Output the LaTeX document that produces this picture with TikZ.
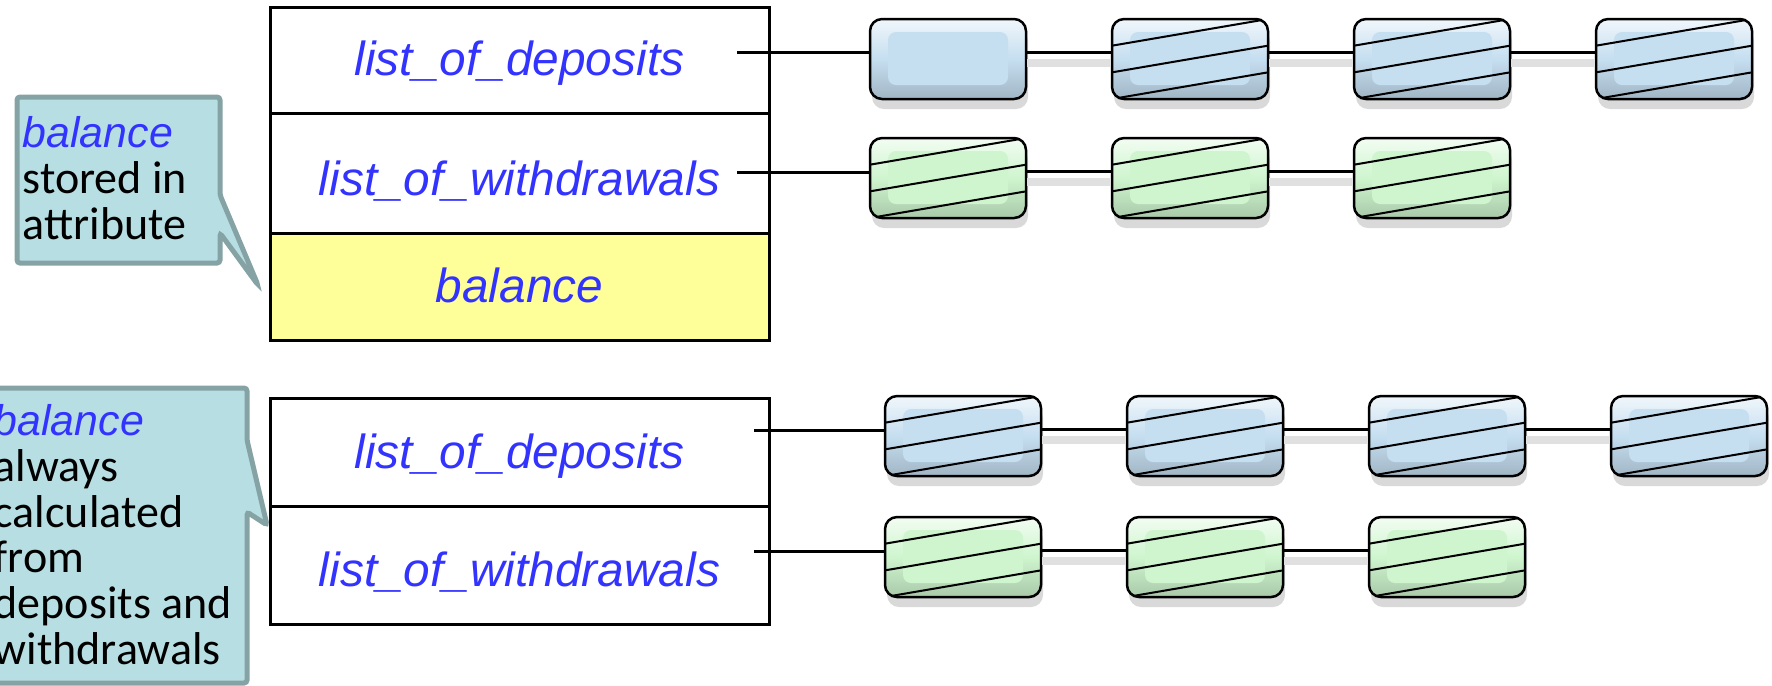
\documentclass[tikz,border=0pt]{standalone}
\usepackage{fontspec}
\usetikzlibrary{calc,shadows}
\newfontfamily\arialfont{Liberation Sans}
\newfontfamily\calibrifont{Carlito}
\definecolor{featureblue}{RGB}{51,51,255}
\definecolor{notefill}{RGB}{183,222,226}
\definecolor{noteline}{RGB}{133,163,165}
\definecolor{slotyellow}{RGB}{255,255,153}
\definecolor{depositblue}{RGB}{197,222,240}
\definecolor{withdrawgreen}{RGB}{206,245,206}

\tikzset{
	field/.style={draw, line width=0.3mm, minimum width=49.9mm, inner sep=0pt, text depth=3.8mm, text=featureblue, font=\arialfont\itshape\fontsize{13.6}{16}\selectfont},
	note/.style={fill=notefill, draw=noteline, line width=0.5mm, rounded corners=0.3mm},
	notetext/.style={anchor=north west, inner sep=0pt, align=left, font=\calibrifont\fontsize{13.1}{13}\selectfont},
	listcell/.style={draw=black, line width=0.25mm, rounded corners=1.2mm, minimum width=15.6mm, minimum height=8mm, inner sep=0pt,
		top color=#1!25!white, bottom color=#1!82!black, middle color=#1,
		drop shadow={shadow xshift=0.2mm, shadow yshift=-1mm, opacity=0.3},
		path picture={
			\fill[#1, rounded corners=0.8mm] ([shift={(1.8mm,-1.3mm)}]path picture bounding box.north west) rectangle ([shift={(-1.8mm,1.4mm)}]path picture bounding box.south east);
		}},
	slashed/.style={listcell=#1,
		path picture={
			\coordinate (nw) at (path picture bounding box.north west);
			\coordinate (ne) at (path picture bounding box.north east);
			\coordinate (sw) at (path picture bounding box.south west);
			\coordinate (se) at (path picture bounding box.south east);
			\fill[#1, rounded corners=0.8mm] ([shift={(1.8mm,-1.3mm)}]nw) rectangle ([shift={(-1.8mm,1.4mm)}]se);
			\draw[line width=0.2mm] ($(nw)!1/3!(sw)$) -- (ne);
			\draw[line width=0.2mm] ($(nw)!2/3!(sw)$) -- ($(ne)!1/3!(se)$);
			\draw[line width=0.2mm] (sw) -- ($(ne)!2/3!(se)$);
		}},
	linkline/.style={line width=0.3mm},
	chainline/.style={linkline, preaction={draw=black!12, line width=0.8mm, transform canvas={yshift=-1.1mm}}}
}

\begin{document}
\begin{tikzpicture}[x=0.1mm, y=-0.1mm]
		\useasboundingbox (0,0) rectangle (1772,685);
		\clip (0,0) rectangle (1772,685);

		% note on the stored attribute
		\draw[note] (17,97) -- (220,97) -- (220,195) -- (258,285) -- (220,233) -- (220,263) -- (17,263) -- cycle;
		\node[notetext] (note1) at (22,116) {{\arialfont\itshape\fontsize{12.2}{13}\selectfont\textcolor{featureblue}{balance}}\\stored in\\attribute};

		% account with the attribute
		\node[field, text height=6.8mm] (deposits) at (519.5,60) {list\_of\_deposits};
		\node[field, text height=8.2mm] (withdrawals) at (519.5,173) {list\_of\_withdrawals};
		\node[field, text height=6.9mm, fill=slotyellow] (balance) at (519.5,286.5) {balance};

		% deposits
		\node[listcell=depositblue] (d1) at (948,59) {};
		\node[slashed=depositblue] (d2) at (1190,59) {};
		\node[slashed=depositblue] (d3) at (1432,59) {};
		\node[slashed=depositblue] (d4) at (1674,59) {};
		\coordinate (dstart) at (737,52);
		\draw[linkline] (dstart) -- (dstart -| d1.west);
		\draw[chainline] (d1.5) -- (d2.175);
		\draw[chainline] (d2.5) -- (d3.175);
		\draw[chainline] (d3.5) -- (d4.175);

		% withdrawals
		\node[slashed=withdrawgreen] (w1) at (948,178) {};
		\node[slashed=withdrawgreen] (w2) at (1190,178) {};
		\node[slashed=withdrawgreen] (w3) at (1432,178) {};
		\coordinate (wstart) at (737,172);
		\draw[linkline] (wstart) -- (wstart -| w1.west);
		\draw[chainline] (w1.5) -- (w2.175);
		\draw[chainline] (w2.5) -- (w3.175);

		% note on the calculated function
		\draw[note] (-40,388) -- (247,388) -- (247,440) -- (267,525) -- (247,512) -- (247,683) -- (-40,683) -- cycle;
		\node[notetext] (note2) at (-7,404) {{\arialfont\itshape\fontsize{12.2}{13}\selectfont\textcolor{featureblue}{balance}}\\always\\calculated\\from\\deposits and\\withdrawals};

		% account without the attribute
		\node[field, text height=7mm] (deposits2) at (519.5,452) {list\_of\_deposits};
		\node[field, text height=8mm] (withdrawals2) at (519.5,565) {list\_of\_withdrawals};

		% deposits
		\node[slashed=depositblue] (dd1) at (963,436) {};
		\node[slashed=depositblue] (dd2) at (1205,436) {};
		\node[slashed=depositblue] (dd3) at (1447,436) {};
		\node[slashed=depositblue] (dd4) at (1689,436) {};
		\coordinate (ddstart) at (754,430);
		\draw[linkline] (ddstart) -- (ddstart -| dd1.west);
		\draw[chainline] (dd1.5) -- (dd2.175);
		\draw[chainline] (dd2.5) -- (dd3.175);
		\draw[chainline] (dd3.5) -- (dd4.175);

		% withdrawals
		\node[slashed=withdrawgreen] (ww1) at (963,557) {};
		\node[slashed=withdrawgreen] (ww2) at (1205,557) {};
		\node[slashed=withdrawgreen] (ww3) at (1447,557) {};
		\coordinate (wwstart) at (754,551);
		\draw[linkline] (wwstart) -- (wwstart -| ww1.west);
		\draw[chainline] (ww1.5) -- (ww2.175);
		\draw[chainline] (ww2.5) -- (ww3.175);

	\end{tikzpicture}
\end{document}
